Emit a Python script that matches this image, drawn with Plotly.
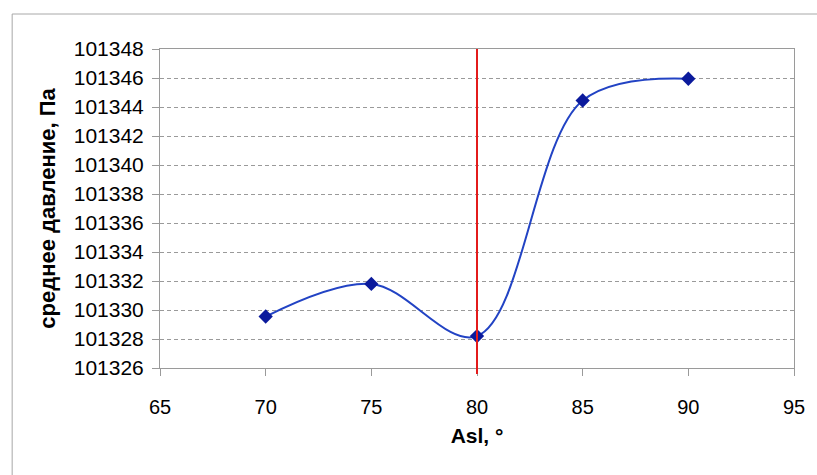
import plotly.graph_objects as go

angles = [70, 75, 80, 85, 90]
pressure = [101329.55, 101331.8, 101328.2, 101344.45, 101345.95]
x_ticks = [65, 70, 75, 80, 85, 90, 95]
y_ticks = list(range(101326, 101349, 2))
marker_x = 80

W, H = 817, 475
L, R, T, B = 160, 18, 49, 107
pw, ph = W - L - R, H - T - B

def px_x(p):
    return (p - L) / pw

def px_y(p):
    return (H - B - p) / ph

fig = go.Figure()
fig.add_trace(go.Scatter(
    x=angles, y=pressure, mode="lines+markers",
    line=dict(color="#2243c4", width=2, shape="spline", smoothing=1),
    marker=dict(symbol="diamond", size=11, color="#0b1a9c"),
    showlegend=False,
))

grid_color = "#9a9a9a"
font_family = "Liberation Sans, Arial, sans-serif"

fig.update_layout(
    width=W, height=H,
    margin=dict(l=L, r=R, t=T, b=B),
    paper_bgcolor="white", plot_bgcolor="white",
    font=dict(family=font_family, color="black"),
    xaxis=dict(
        range=[65, 95], tickvals=x_ticks, ticktext=[str(v) for v in x_ticks],
        showgrid=False, zeroline=False,
        showline=True, linecolor=grid_color, linewidth=1, mirror=True,
        ticks="outside", ticklen=7, tickcolor=grid_color,
        tickfont=dict(size=20), ticklabelstandoff=14,
        title=dict(text="<b>Asl, °</b>", font=dict(size=21), standoff=11),
    ),
    yaxis=dict(
        range=[101326, 101348], tickvals=y_ticks, ticktext=[str(v) for v in y_ticks],
        showgrid=True, gridcolor=grid_color, griddash="4px,3px", gridwidth=1,
        zeroline=False,
        showline=True, linecolor=grid_color, linewidth=1, mirror=True,
        ticks="outside", ticklen=7, tickcolor=grid_color,
        tickfont=dict(size=21), ticklabelstandoff=4,
        title=dict(text="<b>среднее давление, Па</b>", font=dict(size=22), standoff=12),
    ),
    shapes=[
        dict(type="line", xref="x", yref="paper", x0=marker_x, x1=marker_x,
             y0=px_y(374), y1=1, line=dict(color="#e31b1b", width=2), layer="above"),
        dict(type="rect", xref="paper", yref="paper",
             x0=px_x(11), x1=px_x(830), y0=px_y(490), y1=px_y(14),
             line=dict(color="#a8a8a8", width=1), fillcolor="rgba(0,0,0,0)", layer="below"),
    ],
)

fig.write_html("out.html")
